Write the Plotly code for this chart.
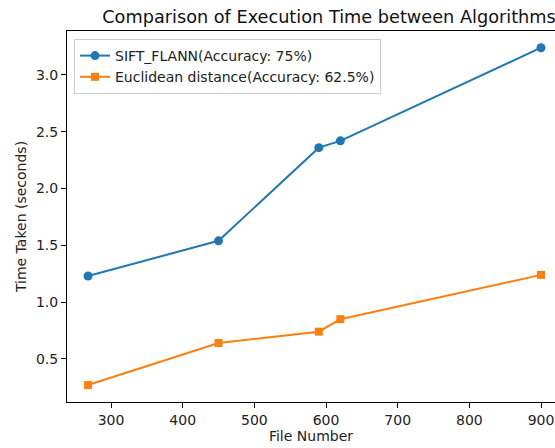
import plotly.graph_objects as go

file_numbers = [268, 450, 590, 620, 900]
sift_flann_times = [1.23, 1.54, 2.36, 2.42, 3.24]
euclidean_times = [0.27, 0.64, 0.74, 0.85, 1.24]
sift_label = "SIFT_FLANN(Accuracy: 75%)"
euclid_label = "Euclidean distance(Accuracy: 62.5%)"
x_ticks = [300, 400, 500, 600, 700, 800, 900]
y_ticks = [0.5, 1.0, 1.5, 2.0, 2.5, 3.0]
y_tick_labels = ["0.5", "1.0", "1.5", "2.0", "2.5", "3.0"]

FONT = "DejaVu Sans"

fig = go.Figure()
fig.add_trace(go.Scatter(
    x=file_numbers, y=sift_flann_times, mode="lines+markers", name=sift_label,
    line=dict(color="#1f77b4", width=2), marker=dict(symbol="circle", size=9, color="#1f77b4"),
))
fig.add_trace(go.Scatter(
    x=file_numbers, y=euclidean_times, mode="lines+markers", name=euclid_label,
    line=dict(color="#ff7f0e", width=2), marker=dict(symbol="square", size=8, color="#ff7f0e"),
))

axis_common = dict(
    showgrid=False, zeroline=False, showline=True, linecolor="black", linewidth=1,
    ticks="outside", ticklen=5, tickwidth=1, tickcolor="black", automargin=False,
    tickfont=dict(family=FONT, size=14, color="#222"),
)

fig.update_layout(
    width=555, height=448,
    margin=dict(l=67, r=0, t=31, b=46),
    paper_bgcolor="white", plot_bgcolor="white",
    font=dict(family=FONT, color="#222"),
    title=dict(
        text="Comparison of Execution Time between Algorithms",
        font=dict(family=FONT, size=17.7, color="#111"),
        x=329 / 555, xref="container", xanchor="center",
        y=1 - 17 / 448, yref="container", yanchor="middle",
    ),
    xaxis=dict(
        **axis_common, range=[238.6, 919.5], tickvals=x_ticks, mirror=True,
        title=dict(text="File Number", font=dict(family=FONT, size=14, color="#222"), standoff=4),
    ),
    yaxis=dict(
        **axis_common, range=[0.121, 3.387], tickvals=y_ticks, ticktext=y_tick_labels,
        title=dict(text="Time Taken (seconds)", font=dict(family=FONT, size=14, color="#222"), standoff=6),
    ),
    legend=dict(
        x=7 / 488, y=1 - 8 / 371, xanchor="left", yanchor="top",
        bgcolor="rgba(255,255,255,0.8)", bordercolor="#cccccc", borderwidth=1,
        font=dict(family=FONT, size=14, color="#222"),
        itemwidth=30, tracegroupgap=0,
    ),
)

fig.write_html("out.html", config={"displayModeBar": False},
               post_script="document.body.style.margin='0';")
